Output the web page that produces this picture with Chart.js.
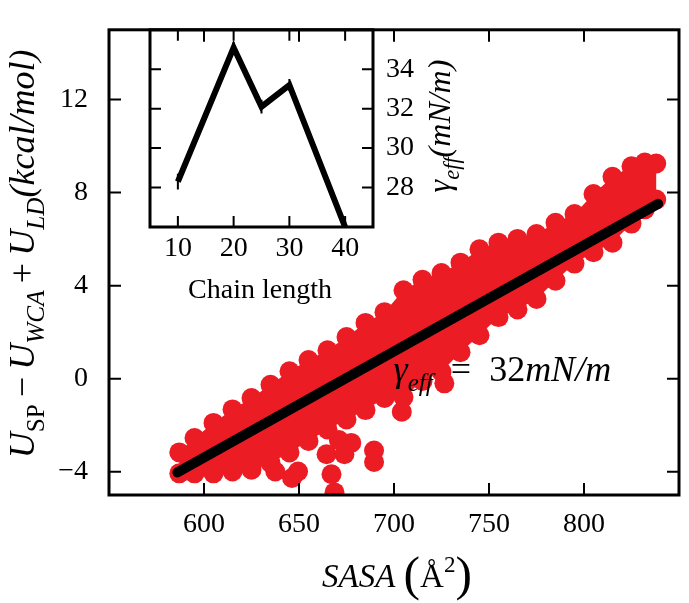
<!DOCTYPE html>
<html>
<head>
<meta charset="utf-8">
<script src="https://cdn.jsdelivr.net/npm/chart.js@4"></script>
<style>
  html, body { margin: 0; padding: 0; background: #fff; }
  #wrap { position: relative; width: 689px; height: 603px; }
  #main { position: absolute; left: 0; top: 0; }
  #inset { position: absolute; left: 110px; top: 8px; }
</style>
</head>
<body>
<div id="wrap">
  <canvas id="main" width="689" height="603"></canvas>
  <canvas id="inset" width="360" height="300"></canvas>
</div>
<script>
// main panel: red cloud of (SASA, energy) samples
const sasaGrid  = [587, 595, 605, 615, 625, 635, 645, 655, 665, 675, 685, 695, 705, 715, 725, 735, 745, 755, 765, 775, 785, 795, 805, 815, 825, 832, 838];
const upperEdge = [-3.17, -2.55, -1.90, -1.32, -0.83, -0.26, 0.32, 0.80, 1.22, 1.79, 2.40, 2.86, 3.80, 4.25, 4.54, 4.99, 5.56, 5.85, 6.01, 6.22, 6.70, 7.08, 7.94, 8.68, 9.13, 9.29, 9.25];
const lowerEdge = [-4.07, -4.07, -4.07, -3.99, -3.91, -3.62, -3.17, -2.68, -2.18, -1.75, -1.35, -0.83, -0.79, -0.10, 0.30, 1.14, 1.87, 2.65, 2.98, 3.43, 4.21, 4.95, 5.44, 5.85, 6.67, 7.28, 7.70];
const outlierX  = [637.5, 646.3, 649.5, 664.5, 667.1, 668.7, 671.0, 673.9, 677.5, 689.5, 689.5, 704.1, 726.5];
const outlierY  = [-3.99, -4.27, -3.99, -3.25, -4.11, -4.89, -2.64, -3.25, -2.76, -3.09, -3.58, -1.42, -0.20];
const fitX = [586, 839];
const fitY = [-4.03, 7.52];
const sasaTicks = [600, 650, 700, 750, 800];
const energyTicks = [-4, 0, 4, 8, 12];

// inset: surface tension vs chain length
const chainLen = [10, 20, 25, 30, 40];
const gamma    = [28.3, 35.1, 32.1, 33.2, 26.0];
const gammaErr = [0.4, 0.3, 0.35, 0.3, 0.3];
const chainTicks = [10, 20, 30, 40];
const gammaTicks = [28, 30, 32, 34];

const RED = '#ec1c24';
const SERIF = '"Liberation Serif", "DejaVu Serif", serif';
Chart.defaults.font.family = SERIF;
Chart.defaults.color = '#000';

const minus = v => v < 0 ? '\u2212' + Math.abs(v) : String(v);

// draws a label made of pieces (italic, subscript, superscript, big brackets)
function drawRich(ctx, parts, x, y, size, angle) {
  ctx.save();
  ctx.translate(x, y);
  ctx.rotate(angle || 0);
  ctx.fillStyle = '#000';
  ctx.textBaseline = 'alphabetic';
  ctx.textAlign = 'left';
  const items = parts.map(p => {
    const sz = p.sub || p.sup ? size * 0.7 : p.big ? size * 1.5 : size;
    const font = (p.it ? 'italic ' : '') + sz.toFixed(1) + 'px ' + SERIF;
    ctx.font = font;
    const dy = p.sub ? size * 0.28 : p.sup ? -size * 0.45 : p.big ? size * 0.1 : 0;
    return { t: p.t, font, dy, w: ctx.measureText(p.t).width };
  });
  const total = items.reduce((s, it) => s + it.w, 0);
  let cx = -total / 2;
  items.forEach(it => {
    ctx.font = it.font;
    ctx.fillText(it.t, cx, it.dy);
    cx += it.w;
  });
  ctx.restore();
}

// box round the plot area, ticks pointing inwards on all four sides
function drawFrame(chart, tickLen) {
  const { ctx, chartArea: a, scales } = chart;
  ctx.save();
  ctx.strokeStyle = '#000';
  ctx.lineWidth = 2;
  ctx.beginPath();
  scales.x.ticks.forEach(t => {
    const px = scales.x.getPixelForValue(t.value);
    ctx.moveTo(px, a.bottom); ctx.lineTo(px, a.bottom - tickLen);
    ctx.moveTo(px, a.top); ctx.lineTo(px, a.top + tickLen);
  });
  scales.y.ticks.forEach(t => {
    const py = scales.y.getPixelForValue(t.value);
    ctx.moveTo(a.left, py); ctx.lineTo(a.left + tickLen, py);
    ctx.moveTo(a.right, py); ctx.lineTo(a.right - tickLen, py);
  });
  ctx.stroke();
  ctx.lineWidth = 3;
  ctx.strokeRect(a.left, a.top, a.right - a.left, a.bottom - a.top);
  ctx.restore();
}

function clipArea(ctx, a) {
  ctx.beginPath();
  ctx.rect(a.left, a.top, a.right - a.left, a.bottom - a.top);
  ctx.clip();
}

const mainDecor = {
  id: 'mainDecor',
  // the dense core of the cloud, between the upper and lower edge samples
  beforeDatasetsDraw(chart) {
    const { ctx, chartArea, scales: { x, y } } = chart;
    ctx.save();
    clipArea(ctx, chartArea);
    ctx.beginPath();
    sasaGrid.forEach((s, i) => {
      const px = x.getPixelForValue(s), py = y.getPixelForValue(upperEdge[i]);
      if (i === 0) ctx.moveTo(px, py); else ctx.lineTo(px, py);
    });
    for (let i = sasaGrid.length - 1; i >= 0; i--) {
      ctx.lineTo(x.getPixelForValue(sasaGrid[i]), y.getPixelForValue(lowerEdge[i]));
    }
    ctx.closePath();
    ctx.fillStyle = RED;
    ctx.fill();
    ctx.restore();
  },
  afterDatasetsDraw(chart) {
    const { ctx, scales } = chart;
    drawRich(ctx, [
      { t: '\u03b3', it: 1 }, { t: 'eff', it: 1, sub: 1 }, { t: '\u2002=\u2002' }, { t: '32' }, { t: 'mN/m', it: 1 }
    ], scales.x.getPixelForValue(757), scales.y.getPixelForValue(-0.1), 36);
  },
  afterDraw(chart) {
    const { ctx } = chart;
    drawFrame(chart, 12);
    drawRich(ctx, [
      { t: 'U', it: 1 }, { t: 'SP', sub: 1 }, { t: '\u2009\u2212\u2009' }, { t: 'U', it: 1 }, { t: 'WCA', it: 1, sub: 1 },
      { t: '\u2009+\u2009' }, { t: 'U', it: 1 }, { t: 'LD', it: 1, sub: 1 }, { t: '(kcal/mol)', it: 1 }
    ], 34, 254, 36, -Math.PI / 2);
    drawRich(ctx, [
      { t: 'SASA', it: 1 }, { t: ' ' }, { t: '(', big: 1 }, { t: '\u00c5' }, { t: '2', sup: 1 }, { t: ')', big: 1 }
    ], 397, 587, 33);
  }
};

const insetDecor = {
  id: 'insetDecor',
  afterDatasetsDraw(chart) {
    const { ctx, chartArea, scales } = chart;
    ctx.save();
    clipArea(ctx, chartArea);
    ctx.strokeStyle = '#000';
    ctx.lineWidth = 2;
    ctx.beginPath();
    chainLen.forEach((c, i) => {
      const px = scales.x.getPixelForValue(c);
      ctx.moveTo(px, scales.y.getPixelForValue(gamma[i] - gammaErr[i]));
      ctx.lineTo(px, scales.y.getPixelForValue(gamma[i] + gammaErr[i]));
    });
    ctx.stroke();
    ctx.restore();
  },
  afterDraw(chart) {
    const { ctx } = chart;
    drawFrame(chart, 11);
    drawRich(ctx, [{ t: 'Chain length' }], 150, 290, 28);
    drawRich(ctx, [
      { t: '\u03b3', it: 1 }, { t: 'eff', it: 1, sub: 1 }, { t: '(mN/m)', it: 1 }
    ], 340, 118, 32, -Math.PI / 2);
  }
};

new Chart(document.getElementById('main'), {
  type: 'line',
  data: {
    datasets: [
      {
        label: 'fit',
        data: fitX.map((x, i) => ({ x, y: fitY[i] })),
        borderColor: '#000',
        borderWidth: 10,
        borderCapStyle: 'round',
        pointRadius: 0,
        fill: false,
        order: 0
      },
      {
        label: 'upper',
        data: sasaGrid.map((x, i) => ({ x, y: upperEdge[i] })),
        showLine: false,
        pointRadius: 10,
        pointBackgroundColor: RED,
        pointBorderWidth: 0,
        order: 1
      },
      {
        label: 'lower',
        data: sasaGrid.map((x, i) => ({ x, y: lowerEdge[i] })),
        showLine: false,
        pointRadius: 10,
        pointBackgroundColor: RED,
        pointBorderWidth: 0,
        order: 2
      },
      {
        label: 'outliers',
        data: outlierX.map((x, i) => ({ x, y: outlierY[i] })),
        showLine: false,
        pointRadius: 10,
        pointBackgroundColor: RED,
        pointBorderWidth: 0,
        order: 3
      }
    ]
  },
  options: {
    responsive: false,
    animation: false,
    events: [],
    layout: { padding: { left: 0, top: 7, right: 3, bottom: 0 } },
    plugins: { legend: { display: false }, tooltip: { enabled: false } },
    scales: {
      x: {
        type: 'linear',
        min: 550,
        max: 850,
        afterBuildTicks: s => { s.ticks = sasaTicks.map(v => ({ value: v })); },
        afterFit: s => { s.height = 108; },
        grid: { display: false },
        border: { display: false },
        ticks: { font: { size: 28 }, color: '#000', padding: 5, maxRotation: 0 }
      },
      y: {
        min: -5,
        max: 15,
        afterBuildTicks: s => { s.ticks = energyTicks.map(v => ({ value: v })); },
        afterFit: s => { s.width = 109; },
        grid: { display: false },
        border: { display: false },
        ticks: { font: { size: 28 }, color: '#000', padding: 13, callback: minus }
      }
    }
  },
  plugins: [mainDecor]
});

new Chart(document.getElementById('inset'), {
  type: 'line',
  data: {
    datasets: [{
      data: chainLen.map((x, i) => ({ x, y: gamma[i] })),
      borderColor: '#000',
      borderWidth: 6,
      borderJoinStyle: 'miter',
      pointRadius: 0,
      fill: false
    }]
  },
  options: {
    responsive: false,
    animation: false,
    events: [],
    layout: { padding: { left: 40, top: 18, right: 0, bottom: 0 } },
    plugins: { legend: { display: false }, tooltip: { enabled: false } },
    scales: {
      x: {
        type: 'linear',
        min: 5,
        max: 45,
        afterBuildTicks: s => { s.ticks = chainTicks.map(v => ({ value: v })); },
        afterFit: s => { s.height = 81; },
        grid: { display: false },
        border: { display: false },
        ticks: { font: { size: 28 }, color: '#000', padding: -3, maxRotation: 0 }
      },
      y: {
        position: 'right',
        min: 26,
        max: 36,
        afterBuildTicks: s => { s.ticks = gammaTicks.map(v => ({ value: v })); },
        afterFit: s => { s.width = 97; },
        grid: { display: false },
        border: { display: false },
        ticks: { font: { size: 28 }, color: '#000', padding: 5 }
      }
    }
  },
  plugins: [insetDecor]
});
</script>
</body>
</html>
